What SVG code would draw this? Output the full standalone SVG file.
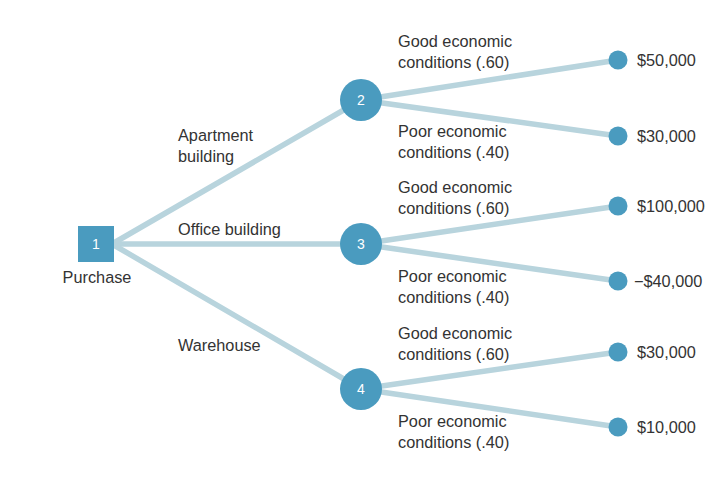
<svg xmlns="http://www.w3.org/2000/svg" width="726" height="484" viewBox="0 0 726 484">
<style>
.e{stroke:#b8d4dd;stroke-width:5.5;fill:none;stroke-linecap:round}
.n{fill:#4a9bbf}
.t{font-family:"Liberation Sans",Arial,sans-serif;font-size:16.3px;fill:#333}
.w{font-family:"Liberation Sans",Arial,sans-serif;font-size:14px;fill:#fff;text-anchor:middle}
</style>
<rect width="726" height="484" fill="#fff"/>
<g id="connectors">
<line class="e" x1="112" y1="244" x2="361" y2="100"/>
<line class="e" x1="112" y1="244" x2="361" y2="244"/>
<line class="e" x1="112" y1="244" x2="361" y2="389"/>
<line class="e" x1="361" y1="100" x2="618" y2="60"/>
<line class="e" x1="361" y1="100" x2="618" y2="136"/>
<line class="e" x1="361" y1="244" x2="618" y2="206"/>
<line class="e" x1="361" y1="244" x2="618" y2="281"/>
<line class="e" x1="361" y1="389" x2="618" y2="352"/>
<line class="e" x1="361" y1="389" x2="618" y2="427"/>
</g>
<g id="n1"><rect class="n" x="78" y="226" width="36" height="36"/><text class="w" x="96" y="249">1</text><text class="t" x="97" y="283" text-anchor="middle">Purchase</text></g>
<g id="n2"><circle class="n" cx="361" cy="100" r="21"/><text class="w" x="361" y="105">2</text></g>
<g id="n3"><circle class="n" cx="361" cy="244" r="21"/><text class="w" x="361" y="249">3</text></g>
<g id="n4"><circle class="n" cx="361" cy="389" r="21"/><text class="w" x="361" y="394">4</text></g>
<g id="l1"><circle class="n" cx="618" cy="60" r="9.5"/><text class="t" x="637" y="66">$50,000</text></g>
<g id="l2"><circle class="n" cx="618" cy="136" r="9.5"/><text class="t" x="637" y="142">$30,000</text></g>
<g id="l3"><circle class="n" cx="618" cy="206" r="9.5"/><text class="t" x="637" y="212">$100,000</text></g>
<g id="l4"><circle class="n" cx="618" cy="281" r="9.5"/><text class="t" x="634" y="287">−$40,000</text></g>
<g id="l5"><circle class="n" cx="618" cy="352" r="9.5"/><text class="t" x="637" y="358">$30,000</text></g>
<g id="l6"><circle class="n" cx="618" cy="427" r="9.5"/><text class="t" x="637" y="433">$10,000</text></g>
<g id="labels">
<text class="t" x="178" y="141">Apartment</text>
<text class="t" x="178" y="162">building</text>
<text class="t" x="178" y="235">Office building</text>
<text class="t" x="178" y="351">Warehouse</text>
<text class="t" x="398" y="47">Good economic</text>
<text class="t" x="398" y="68">conditions (.60)</text>
<text class="t" x="398" y="137">Poor economic</text>
<text class="t" x="398" y="158">conditions (.40)</text>
<text class="t" x="398" y="193">Good economic</text>
<text class="t" x="398" y="214">conditions (.60)</text>
<text class="t" x="398" y="282">Poor economic</text>
<text class="t" x="398" y="303">conditions (.40)</text>
<text class="t" x="398" y="339">Good economic</text>
<text class="t" x="398" y="360">conditions (.60)</text>
<text class="t" x="398" y="427">Poor economic</text>
<text class="t" x="398" y="448">conditions (.40)</text>
</g>
</svg>
